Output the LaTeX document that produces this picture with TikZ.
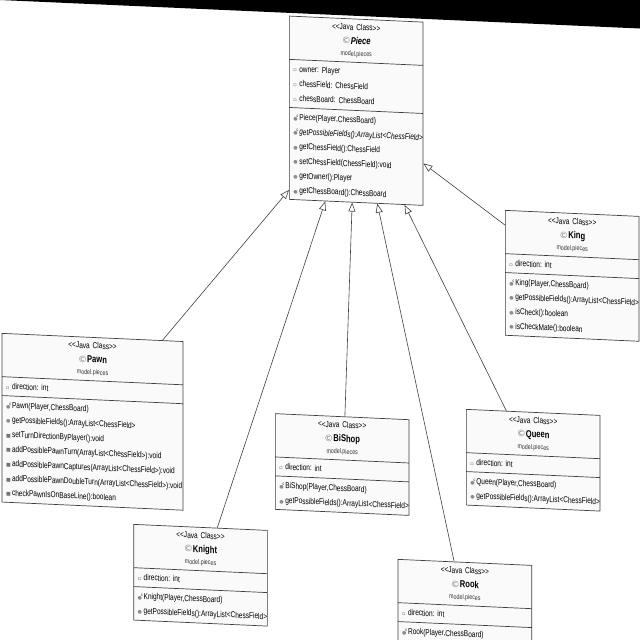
\documentclass[tikz,border=0pt]{standalone}
\usepackage{fontspec}
\setmainfont[FakeStretch=.76, WordSpace=.7]{Liberation Sans}
\newfontfamily\iconfont{DejaVu Sans}
\usetikzlibrary{shapes.multipart, arrows.meta, calc}

% member markers
\newcommand{\attr}{\strut\makebox[7pt][l]{\hspace{1pt}\textcolor{black!70}{\iconfont\fontsize{5}{5}\selectfont ▫}}}
\newcommand{\pub}{\strut\makebox[7pt][l]{\hspace{1pt}\textcolor{black!45}{\iconfont\fontsize{5}{5}\selectfont ●}}}
\newcommand{\priv}{\strut\makebox[7pt][l]{\hspace{1pt}\textcolor{black!55}{\iconfont\fontsize{5}{5}\selectfont ■}}}
\newcommand{\ctor}{\strut\makebox[7pt][l]{\hspace{1pt}\textcolor{black!45}{\iconfont\fontsize{5}{5}\selectfont ●}\hspace{-1pt}\raisebox{3pt}{\fontsize{4.5}{4.5}\selectfont c}}}
\newcommand{\classhead}[1]{\centering\fontsize{8.6}{13}\selectfont\strut{<}{<}Java Class{>}{>}\par
    \fontsize{10}{13}\selectfont\strut\raisebox{-1pt}{\textcolor{black!50}{\iconfont\fontsize{9}{9}\selectfont ©}\textbf{#1}}\par
    \fontsize{7}{13}\selectfont\strut\textcolor{black!80}{model.pieces}\par}

\begin{document}
\begin{tikzpicture}[x=1pt, y=-1pt,
        classbox/.style={rectangle split, rectangle split parts=3, draw=black!75, fill=black!2, line width=.7pt,
            yslant=-.045, anchor=north west, align=left, inner xsep=3pt, inner ysep=1.8pt, text width=#1,
            font=\frenchspacing\fontsize{8.6}{14.6}\selectfont},
        classbox/.default=127.7pt,
        inherit/.style={draw=black!75, line width=.6pt, -{Triangle[open, length=9pt, width=7pt]}}]
    \useasboundingbox (0,0) rectangle (640,640);
    \clip (0,0) rectangle (640,640);
    \fill (0,0) -- (640,28.5) -- (640,0) -- cycle;

    \node[classbox] (piece) at (289,15.7) {\classhead{\textit{Piece}}
        \nodepart{two}\attr owner: Player\\ \attr chessField: ChessField\\ \attr chessBoard: ChessBoard
        \nodepart{three}\ctor Piece(Player,ChessBoard)\\ \ctor\textit{getPossibleFields():ArrayList<ChessField>}\\
        \pub getChessField():ChessField\\ \pub setChessField(ChessField):void\\
        \pub getOwner():Player\\ \pub getChessBoard():ChessBoard};
    \node[classbox] (king) at (505,210) {\classhead{King}
        \nodepart{two}\attr direction: int
        \nodepart{three}\ctor King(Player,ChessBoard)\\ \pub getPossibleFields():ArrayList<ChessField>\\
        \pub isCheck():boolean\\ \pub isCheckMate():boolean};
    \node[classbox=175pt] (pawn) at (1.7,333) {\classhead{Pawn}
        \nodepart{two}\attr direction: int
        \nodepart{three}\ctor Pawn(Player,ChessBoard)\\ \pub getPossibleFields():ArrayList<ChessField>\\
        \priv setTurnDirectionByPlayer():void\\ \priv addPossiblePawnTurn(ArrayList<ChessField>):void\\
        \priv addPossiblePawnCaptures(ArrayList<ChessField>):void\\
        \priv addPossiblePawnDoubleTurn(ArrayList<ChessField>):void\\ \priv checkPawnIsOnBaseLine():boolean};
    \node[classbox] (knight) at (133.3,524) {\classhead{Knight}
        \nodepart{two}\attr direction: int
        \nodepart{three}\ctor Knight(Player,ChessBoard)\\ \pub getPossibleFields():ArrayList<ChessField>};
    \node[classbox] (bishop) at (275,413.3) {\classhead{BiShop}
        \nodepart{two}\attr direction: int
        \nodepart{three}\ctor BiShop(Player,ChessBoard)\\ \pub getPossibleFields():ArrayList<ChessField>};
    \node[classbox] (queen) at (466,409) {\classhead{Queen}
        \nodepart{two}\attr direction: int
        \nodepart{three}\ctor Queen(Player,ChessBoard)\\ \pub getPossibleFields():ArrayList<ChessField>};
    \node[classbox] (rook) at (397.7,559) {\classhead{Rook}
        \nodepart{two}\attr direction: int
        \nodepart{three}\ctor Rook(Player,ChessBoard)\\ \strut};

    \draw[inherit] ($(pawn.north west)!.885!(pawn.north east)$) -- ($(piece.north west)!.947!(piece.south west)$);
    \draw[inherit] ($(knight.north west)!.625!(knight.north east)$) -- ($(piece.south west)!.27!(piece.south east)$);
    \draw[inherit] ($(bishop.north west)!.52!(bishop.north east)$) -- ($(piece.south west)!.47!(piece.south east)$);
    \draw[inherit] ($(rook.north west)!.42!(rook.north east)$) -- ($(piece.south west)!.657!(piece.south east)$);
    \draw[inherit] ($(queen.north west)!.3!(queen.north east)$) -- ($(piece.south west)!.86!(piece.south east)$);
    \draw[inherit] ($(king.north west)!.12!(king.south west)$) -- ($(piece.north east)!.77!(piece.south east)$);
\end{tikzpicture}
\end{document}
